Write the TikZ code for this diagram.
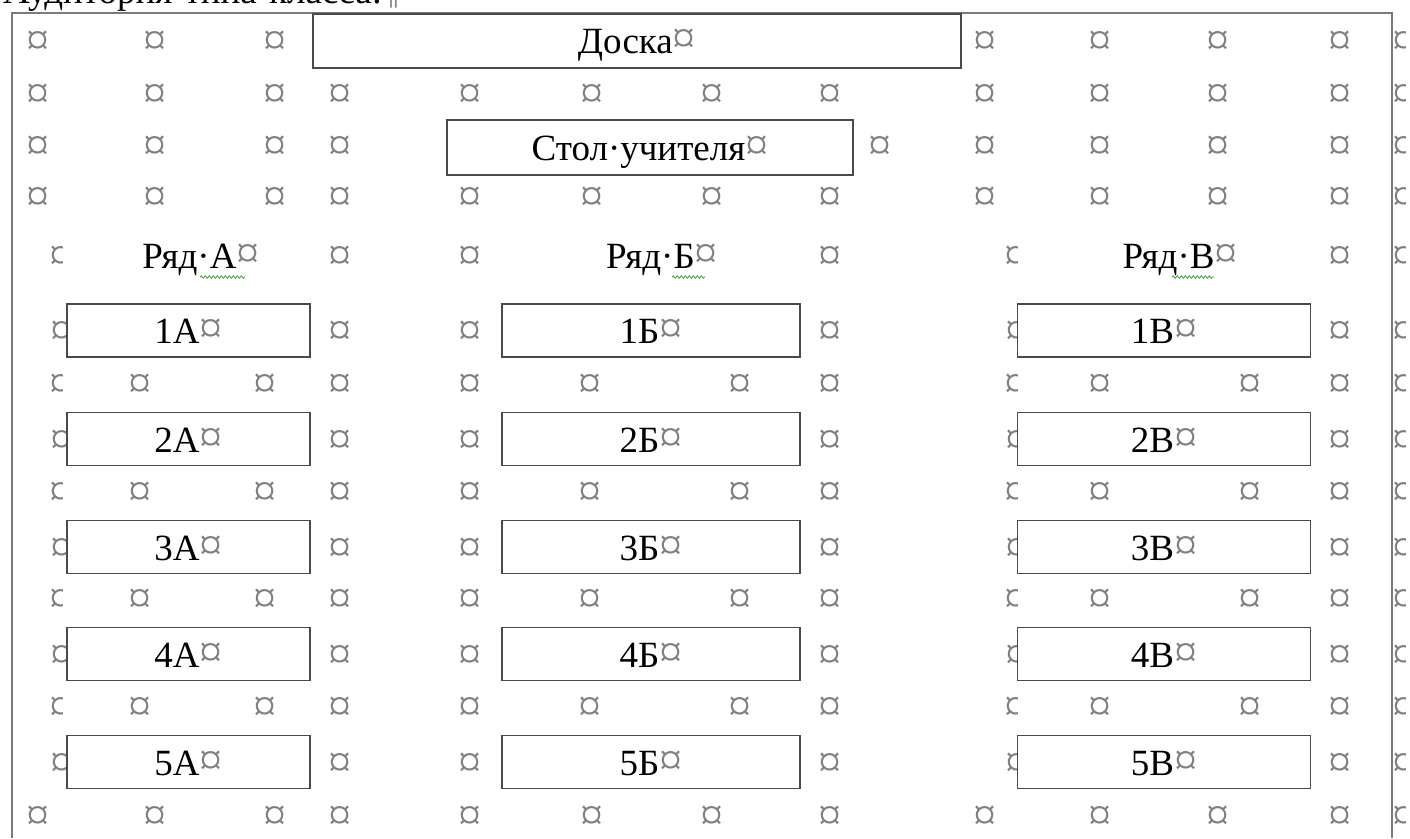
\documentclass[tikz,border=0pt]{standalone}
\usepackage{fontspec}
\setmainfont{Liberation Serif}
\usepackage{xcolor}
\definecolor{markgray}{HTML}{808080}
\definecolor{framegray}{HTML}{7A7A7A}
\definecolor{deskgray}{HTML}{4A4A4A}
\definecolor{wavygreen}{HTML}{3CA03C}
\usepackage{tikz}
\usetikzlibrary{decorations.pathmorphing}
\newcommand{\cellend}{\textcolor{markgray}{\fontsize{46}{46}\selectfont ¤}}
\newcommand{\halfmark}[2]{%
  \begin{scope}
    \clip (#1-12,#2-14) rectangle (#1+1,#2+14);
    \node[cellmark] at (#1,#2) {¤};
  \end{scope}}

\begin{document}
\begin{tikzpicture}[x=1pt, y=-1pt, font=\fontsize{37}{42}\selectfont,
  cellmark/.style={text=markgray, anchor=base, inner sep=0pt, yshift=-15pt, font=\fontsize{46}{46}\selectfont},
  rowlabel/.style={anchor=base, inner sep=0pt, yshift=-13pt},
  desk/.style={draw=deskgray, line width=1.8pt, fill=white, inner sep=0pt, text height=27pt, text depth=1pt},
  wavy/.style={wavygreen, line width=0.8pt, decorate, decoration={snake, amplitude=1.2pt, segment length=4pt}}]
	\useasboundingbox (0,0) rectangle (1410,838);
	\clip (0,0) rectangle (1410,838);
	
	\node[anchor=base west, inner sep=0pt] (title) at (3,3) {Аудитория·типа·класса:\textcolor{markgray}{¶}};
	\draw[framegray, line width=2pt] (12,838) -- (12,13) -- (1392,13) -- (1392,838);
	
	% cell marks
	\foreach \x in {38,155,275,985,1100,1218,1340} {\node[cellmark] at (\x,40) {¤};}
	\foreach \x in {38,155,275,340,880,985,1100,1218,1340} {\node[cellmark] at (\x,145) {¤};}
	\foreach \y in {93,196,815} {
		\foreach \x in {38,155,275,340,470,592,712,830,985,1100,1218,1340} {\node[cellmark] at (\x,\y) {¤};}
	}
	\foreach \y in {383,491,598,706} {
		\foreach \x in {140,265,340,470,590,740,830,1100,1250,1340} {\node[cellmark] at (\x,\y) {¤};}
	}
	\foreach \y in {255,330,439,547,654,762} {
		\foreach \x in {340,470,830,1340} {\node[cellmark] at (\x,\y) {¤};}
	}
	\foreach \y in {330,439,547,654,762} {
		\node[cellmark] at (62,\y) {¤};
		\node[cellmark] at (1017,\y) {¤};
	}
	\foreach \y in {255,383,491,598,706} {\halfmark{61}{\y}\halfmark{1016}{\y}}
	\foreach \y in {40,93,145,196,255,330,383,439,491,547,598,654,706,762,815} {\halfmark{1404}{\y}}
	
	% board and teacher
	\node[desk, minimum width=648pt, minimum height=54pt, anchor=north west] (board) at (312,13) {Доска\cellend};
	\node[desk, minimum width=406pt, minimum height=55pt] (teacher) at (650,147.5) {Стол·учителя\cellend};
	
	% rows
	\node[rowlabel] (rowA) at (201,255) {Ряд·А\cellend};
	\node[rowlabel] (rowB) at (662,255) {Ряд·Б\cellend};
	\node[rowlabel] (rowV) at (1180,255) {Ряд·В\cellend};
	\draw[wavy] (200,277) -- (245,277);
	\draw[wavy] (672,277) -- (705,277);
	\draw[wavy] (1172,277) -- (1214,277);
	
	\foreach \n/\y in {1/330.5,2/439,3/547,4/654,5/762} {
		\node[desk, minimum width=243pt, minimum height=53pt] (deskA\n) at (188.5,\y) {{\n}А\cellend};
		\node[desk, minimum width=298pt, minimum height=53pt] (deskB\n) at (651,\y) {{\n}Б\cellend};
		\node[desk, minimum width=293pt, minimum height=53pt] (deskV\n) at (1164,\y) {{\n}В\cellend};
	}
\end{tikzpicture}
\end{document}
